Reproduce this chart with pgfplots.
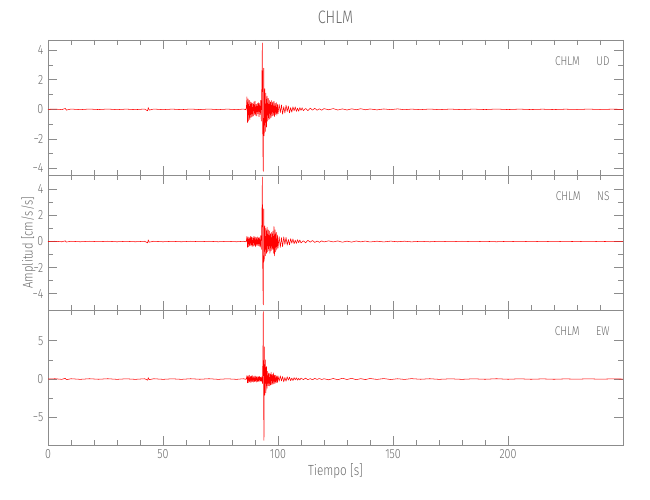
\documentclass[border=0pt]{standalone}
\usepackage{fontspec}
\setmainfont{Fira Sans Light}[FakeStretch=0.8]
\usepackage{pgfplots}
\pgfplotsset{compat=1.18}
\definecolor{axgray}{gray}{0.55}
\definecolor{txgray}{gray}{0.42}
\tikzset{
  lab/.style={anchor=east, txgray, font=\fontsize{9.5}{11}\selectfont, inner sep=0pt},
  trace/.style={red, line width=0.4pt, line join=round},
}
\pgfplotsset{
  seis/.style={
    scale only axis, width=431.25pt, height=101.25pt,
    xmin=0, xmax=250,
    xtick={0,50,100,150,200,250}, minor x tick num=4,
    tick align=inside,
    major tick length=7pt, minor tick length=3.5pt,
    axis line style={axgray, line width=0.5pt},
    every tick/.style={axgray, line width=0.5pt},
    tick label style={txgray, font=\fontsize{10}{12}\selectfont},
    /pgf/number format/assume math mode=true,
    xticklabels={},
    clip=true,
  },
}
\begin{document}
\begin{tikzpicture}
\useasboundingbox (-36pt,-41.25pt) rectangle (451.5pt,333.75pt);

% ---------- Panel 3 : EW ----------
\begin{axis}[seis, at={(0pt,0pt)}, anchor=south west,
  ymin=-8.6, ymax=9.0, ytick={-5,0,5}, yticklabels={−5,0,5}, minor y tick num=1,
  xtick={0,50,100,150,200}, xticklabels={0,50,100,150,200},
  xlabel={Tiempo [s]}, xlabel style={txgray, font=\fontsize{11}{13}\selectfont, yshift=3pt}]
\addplot[trace] coordinates {
(0,0) (3,0.04) (6,-0.04) (7.5,0.1) (8,-0.08) (10,0.04) (14,-0.04) (18,0.04) (22,-0.03) (26,0.04) (30,-0.04) (34,0.03) (38,-0.04) (42,0.04) (43.3,-0.15) (43.6,0.18) (44,-0.08) (46,0.04) (50,-0.04) (54,0.03) (58,-0.04) (62,0.04) (66,-0.03) (70,0.04) (74,-0.04) (78,0.03) (82,-0.04) (85,0.04) (86,-0.04)
(86.25,0.05) (86.5,0.45) (86.75,-0.5) (87,0.4) (87.25,-0.45) (87.5,0.5) (87.75,-0.4) (88,0.35) (88.25,-0.45) (88.5,0.4) (88.75,-0.35) (89,0.45) (89.25,-0.4) (89.5,0.3) (89.75,-0.35) (90,0.4) (90.25,-0.3) (90.5,0.35) (90.75,-0.4) (91,0.3) (91.25,-0.35) (91.5,0.3) (91.75,-0.3) (92,0.35) (92.25,-0.3) (92.5,0.25) (92.75,-0.3) (93,0.3) (93.25,-0.6)
(93.45,3.0) (93.6,8.8) (93.75,-3.5) (93.9,-8.0) (94.05,4.2) (94.25,-2.1) (94.5,2.5) (94.75,-1.8) (95,1.6) (95.25,-1.2) (95.5,1.0) (95.75,-0.9) (96,0.8) (96.25,-0.9) (96.5,0.7) (96.75,-0.8) (97,0.9) (97.25,-0.7) (97.5,0.6) (97.75,-0.7) (98,0.8) (98.25,-0.6) (98.5,0.5) (98.75,-0.55) (99,0.5) (99.25,-0.45) (99.5,0.4) (99.75,-0.45) (100,0.4)
(100.5,-0.3) (101,0.42) (101.5,-0.25) (102,0.33) (102.5,-0.36) (103,0.2) (103.5,-0.28) (104,0.3) (104.5,-0.15) (105,0.24) (105.5,-0.22) (106,0.12) (106.5,-0.2) (107,0.18) (107.5,-0.1) (108,0.16) (108.5,-0.15) (109,0.09) (109.5,-0.13) (110,0.12) (111,-0.07) (112,0.11) (113,-0.09) (114,0.06) (115,-0.09) (116,0.08) (117,-0.05) (118,0.07) (119,-0.06) (120,0.04)
(122,-0.1) (124,0.07) (126,-0.09) (128,0.1) (130,-0.06) (132,0.09) (134,-0.08) (136,0.05) (138,-0.07) (140,0.07) (143,-0.05) (146,0.06) (149,-0.06) (152,0.04) (155,-0.05) (158,0.05) (162,-0.03) (166,0.04) (170,-0.04) (175,0.03) (180,-0.04) (185,0.03) (190,-0.03) (195,0.04) (200,-0.03) (205,0.03) (210,-0.03) (215,0.02) (220,-0.03) (225,0.02) (230,-0.02) (235,0.03) (240,-0.02) (245,0.02) (250,0)
};
\node[lab] at (rel axis cs:0.977,0.844) {CHLM\hspace{1.3em}EW};
\end{axis}

% ---------- Panel 2 : NS ----------
\begin{axis}[seis, at={(0pt,101.25pt)}, anchor=south west,
  ymin=-5.25, ymax=5.1, ytick={-4,-2,0,2,4}, yticklabels={−4,−2,0,2,4}, minor y tick num=1,
  ylabel={Amplitud [cm/s/s]}, ylabel style={txgray, font=\fontsize{10.5}{12}\selectfont, yshift=-9pt}]
\addplot[trace] coordinates {
(0,0) (3,0.02) (6,-0.02) (7.5,0.05) (8,-0.04) (10,0.02) (14,-0.02) (18,0.02) (22,-0.015) (26,0.02) (30,-0.02) (34,0.015) (38,-0.02) (42,0.02) (43.3,-0.1) (43.6,0.12) (44,-0.05) (46,0.02) (50,-0.02) (54,0.015) (58,-0.02) (62,0.02) (66,-0.015) (70,0.02) (74,-0.02) (78,0.015) (82,-0.02) (85,0.02) (86,-0.02)
(86.25,0.05) (86.5,0.4) (86.75,-0.45) (87,0.35) (87.25,-0.4) (87.5,0.3) (87.75,-0.35) (88,0.4) (88.25,-0.3) (88.5,0.35) (88.75,-0.4) (89,0.3) (89.25,-0.35) (89.5,0.4) (89.75,-0.3) (90,0.35) (90.25,-0.4) (90.5,0.3) (90.75,-0.3) (91,0.35) (91.25,-0.3) (91.5,0.3) (91.75,-0.35) (92,0.3) (92.25,-0.4) (92.5,0.45) (92.75,-0.6)
(93,1.8) (93.2,4.95) (93.4,-3.0) (93.6,-4.85) (93.8,2.5) (94,-1.5) (94.25,1.2) (94.5,-1.1) (94.75,1.0) (95,-0.9) (95.25,1.1) (95.5,-0.8) (95.75,0.9) (96,-0.7) (96.25,0.8) (96.5,-0.9) (96.75,0.6) (97,-0.7) (97.25,0.7) (97.5,-0.6) (97.75,0.8) (98,-0.9) (98.25,1.15) (98.5,-1.1) (98.75,0.9) (99,-0.8) (99.25,0.7) (99.5,-0.6) (99.75,0.5) (100,-0.5)
(100.5,0.38) (101,-0.45) (101.5,0.3) (102,-0.4) (102.5,0.36) (103,-0.22) (103.5,0.32) (104,-0.28) (104.5,0.16) (105,-0.25) (105.5,0.22) (106,-0.13) (106.5,0.2) (107,-0.17) (107.5,0.1) (108,-0.15) (108.5,0.14) (109,-0.09) (109.5,0.12) (110,-0.11) (111,0.06) (112,-0.1) (113,0.09) (114,-0.05) (115,0.08) (116,-0.07) (117,0.04) (118,-0.06) (119,0.05) (120,-0.03)
(122,0.05) (124,-0.03) (126,0.045) (128,-0.05) (130,0.03) (132,-0.045) (134,0.04) (136,-0.025) (138,0.035) (140,-0.035) (143,0.025) (146,-0.03) (149,0.03) (152,-0.02) (155,0.025) (158,-0.025) (162,0.015) (166,-0.02) (170,0.02) (175,-0.015) (180,0.02) (185,-0.015) (190,0.015) (195,-0.02) (200,0.015) (205,-0.015) (210,0.015) (215,-0.01) (220,0.015) (225,-0.01) (230,0.01) (235,-0.015) (240,0.01) (245,-0.01) (250,0)
};
\node[lab] at (rel axis cs:0.977,0.844) {CHLM\hspace{1.3em}NS};
\end{axis}

% ---------- Panel 1 : UD ----------
\begin{axis}[seis, at={(0pt,202.5pt)}, anchor=south west,
  ymin=-4.45, ymax=4.7, ytick={-4,-2,0,2,4}, yticklabels={−4,−2,0,2,4}, minor y tick num=1,
  title={CHLM}, title style={txgray, font=\fontsize{13.5}{16}\selectfont, yshift=3pt}]
\addplot[trace] coordinates {
(0,0) (3,0.02) (6,-0.02) (7.5,0.06) (8,-0.05) (10,0.02) (14,-0.02) (18,0.02) (22,-0.015) (26,0.02) (30,-0.02) (34,0.015) (38,-0.02) (42,0.02) (43.3,-0.1) (43.6,0.12) (44,-0.05) (46,0.02) (50,-0.02) (54,0.015) (58,-0.02) (62,0.02) (66,-0.015) (70,0.02) (74,-0.02) (78,0.015) (82,-0.02) (85,0.02) (86,-0.02)
(86.25,0.1) (86.5,0.85) (86.75,-0.9) (87,0.7) (87.25,-0.8) (87.5,0.6) (87.75,-0.7) (88,0.5) (88.25,-0.55) (88.5,0.45) (88.75,-0.5) (89,0.4) (89.25,-0.45) (89.5,0.5) (89.75,-0.35) (90,0.55) (90.25,-0.4) (90.5,0.35) (90.75,-0.45) (91,0.4) (91.25,-0.3) (91.5,0.45) (91.75,-0.5) (92,0.4) (92.25,-0.35) (92.5,0.6) (92.75,-0.8)
(93,2.0) (93.2,4.5) (93.4,-2.5) (93.6,-4.2) (93.8,2.8) (94,-1.8) (94.25,1.4) (94.5,-1.5) (94.75,1.1) (95,-1.2) (95.25,0.9) (95.5,-0.8) (95.75,0.75) (96,-0.7) (96.25,0.6) (96.5,-0.65) (96.75,0.5) (97,-0.55) (97.25,0.6) (97.5,-0.45) (97.75,0.5) (98,-0.4) (98.25,0.55) (98.5,-0.5) (98.75,0.4) (99,-0.35) (99.25,0.45) (99.5,-0.4) (99.75,0.35) (100,-0.3)
(100.5,0.35) (101,-0.22) (101.5,0.3) (102,-0.33) (102.5,0.18) (103,-0.25) (103.5,0.28) (104,-0.15) (104.5,0.22) (105,-0.24) (105.5,0.12) (106,-0.19) (106.5,0.17) (107,-0.1) (107.5,0.16) (108,-0.14) (108.5,0.08) (109,-0.13) (109.5,0.12) (110,-0.07) (110.5,0.11) (111,-0.09) (112,0.06) (113,-0.09) (114,0.08) (115,-0.05) (116,0.07) (117,-0.06) (118,0.04) (119,-0.06) (120,0.05)
(122,-0.03) (124,0.05) (126,-0.045) (128,0.03) (130,-0.045) (132,0.035) (134,-0.025) (136,0.04) (138,-0.03) (140,0.025) (143,-0.035) (146,0.025) (149,-0.02) (152,0.03) (155,-0.025) (158,0.015) (162,-0.02) (166,0.02) (170,-0.02) (175,0.015) (180,-0.02) (185,0.015) (190,-0.015) (195,0.02) (200,-0.015) (205,0.015) (210,-0.015) (215,0.01) (220,-0.015) (225,0.01) (230,-0.01) (235,0.015) (240,-0.01) (245,0.01) (250,0)
};
\node[lab] at (rel axis cs:0.977,0.844) {CHLM\hspace{1.3em}UD};
\end{axis}
\end{tikzpicture}
\end{document}
